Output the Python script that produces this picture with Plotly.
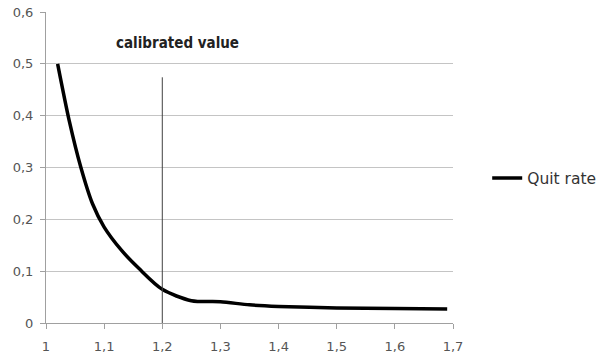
import plotly.graph_objects as go

x_vals = [1.02, 1.04, 1.06, 1.08, 1.10, 1.13, 1.16, 1.20, 1.25, 1.30, 1.35, 1.40, 1.50, 1.60, 1.69]
quit_rate = [0.50, 0.39, 0.30, 0.23, 0.185, 0.14, 0.105, 0.065, 0.043, 0.041, 0.035, 0.032, 0.029, 0.028, 0.027]

x_ticks = [1.0, 1.1, 1.2, 1.3, 1.4, 1.5, 1.6, 1.7]
x_tick_text = ["1", "1,1", "1,2", "1,3", "1,4", "1,5", "1,6", "1,7"]
y_ticks = [0, 0.1, 0.2, 0.3, 0.4, 0.5, 0.6]
y_tick_text = ["0", "0,1", "0,2", "0,3", "0,4", "0,5", "0,6"]

calibrated_x = 1.2
calibrated_top = 0.474

fig = go.Figure()
fig.add_trace(go.Scatter(
    x=x_vals, y=quit_rate, mode="lines", name="Quit rate",
    line=dict(color="black", width=3.5, shape="spline", smoothing=0.8),
))

fig.add_shape(type="line", x0=calibrated_x, x1=calibrated_x, y0=0, y1=calibrated_top,
              xref="x", yref="y", line=dict(color="#404040", width=1))
fig.add_annotation(x=1.226, y=0.54, xref="x", yref="y", text="<b>calibrated value</b>",
                   showarrow=False, font=dict(family="DejaVu Sans Condensed, DejaVu Sans", size=15, color="#222"))

fig.update_layout(
    width=600, height=357,
    margin=dict(l=46, r=147, t=12, b=34, autoexpand=False),
    paper_bgcolor="white", plot_bgcolor="white",
    font=dict(family="DejaVu Sans", size=13, color="#555"),
    showlegend=True,
    legend=dict(xref="container", yref="container", x=0.812, y=0.50,
                xanchor="left", yanchor="middle",
                font=dict(size=15.5, color="#333"), bgcolor="rgba(0,0,0,0)"),
    xaxis=dict(range=[1.0, 1.7], tickvals=x_ticks, ticktext=x_tick_text, automargin=False,
               showgrid=False, zeroline=False, showline=True, linecolor="#a0a0a0", linewidth=1,
               ticks="outside", ticklen=5, tickcolor="#a0a0a0", ticklabelstandoff=6, fixedrange=True),
    yaxis=dict(range=[0, 0.6], tickvals=y_ticks, ticktext=y_tick_text, automargin=False,
               showgrid=True, gridcolor="#c4c4c4", gridwidth=1, zeroline=False,
               showline=True, linecolor="#a0a0a0", linewidth=1,
               ticks="outside", ticklen=5, tickcolor="#a0a0a0", ticklabelstandoff=4, fixedrange=True),
)

fig.write_html("out.html")
